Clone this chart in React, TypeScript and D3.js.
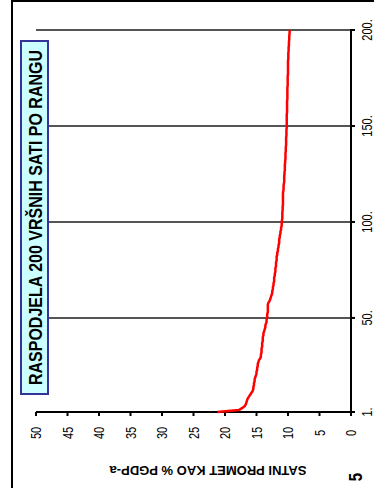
import React from "react";
import * as d3 from "d3";

const ranks: number[] = d3.range(1, 201);
const values: number[] = [
  21.2, 17.8, 17.3, 16.9, 16.7, 16.6, 16.5, 16.4, 16.2, 16.0,
  15.8, 15.6, 15.5, 15.5, 15.4, 15.4, 15.3, 15.3, 15.2, 15.1,
  15.0, 15.0, 14.9, 14.9, 14.8, 14.8, 14.7, 14.6, 14.4, 14.3,
  14.3, 14.2, 14.2, 14.2, 14.1, 14.1, 14.1, 14.0, 14.0, 14.0,
  13.9, 13.9, 13.8, 13.7, 13.6, 13.6, 13.5, 13.4, 13.4, 13.3,
  13.3, 13.3, 13.2, 13.2, 13.2, 13.2, 13.2, 13.1, 12.9, 12.8,
  12.7, 12.6, 12.5, 12.5, 12.4, 12.4, 12.3, 12.3, 12.2, 12.2,
  12.2, 12.1, 12.1, 12.0, 12.0, 12.0, 11.9, 11.9, 11.9, 11.8,
  11.8, 11.8, 11.7, 11.7, 11.6, 11.6, 11.5, 11.5, 11.4, 11.4,
  11.4, 11.3, 11.3, 11.2, 11.2, 11.1, 11.1, 11.0, 11.0, 11.0,
  10.95, 10.9, 10.9, 10.9, 10.9, 10.85, 10.85, 10.85, 10.8, 10.8,
  10.8, 10.8, 10.8, 10.8, 10.8, 10.75, 10.7, 10.7, 10.7, 10.65,
  10.6, 10.6, 10.6, 10.6, 10.55, 10.55, 10.5, 10.5, 10.5, 10.5,
  10.45, 10.45, 10.4, 10.4, 10.4, 10.4, 10.35, 10.35, 10.35, 10.3,
  10.3, 10.3, 10.3, 10.3, 10.25, 10.25, 10.25, 10.25, 10.2, 10.2,
  10.2, 10.2, 10.2, 10.2, 10.2, 10.2, 10.15, 10.15, 10.15, 10.15,
  10.15, 10.15, 10.15, 10.1, 10.1, 10.1, 10.1, 10.1, 10.1, 10.1,
  10.05, 10.05, 10.05, 10.05, 10.05, 10.05, 10.0, 10.0, 10.0, 10.0,
  10.0, 10.0, 10.0, 10.0, 9.95, 9.95, 9.95, 9.95, 9.9, 9.9,
  9.9, 9.85, 9.85, 9.85, 9.8, 9.8, 9.8, 9.75, 9.75, 9.7,
];
const valueTicks: number[] = [0, 5, 10, 15, 20, 25, 30, 35, 40, 45, 50];
const rankTicks: number[] = [1, 50, 100, 150, 200];
const rankTickLabels: string[] = ["1.", "50.", "100.", "150.", "200."];
const gridRanks: number[] = [50, 100, 150, 200];
const title = "RASPODJELA 200 VRŠNIH SATI PO RANGU";
const axisTitle = "SATNI PROMET KAO % PGDP-a";
const pageNumber = "5";

const W = 374;
const H = 488;
const font = "'Liberation Sans', Arial, sans-serif";

export default function App() {
  const x = d3.scaleLinear().domain([0, 50]).range([351, 36]);
  const y = d3.scaleLinear().domain([1, 200]).range([412, 30]);
  const line = d3
    .line<number>()
    .x((d) => x(d))
    .y((_, i) => y(ranks[i]));

  return (
    <svg
      width={W}
      height={H}
      style={{ position: "absolute", left: 0, top: 0, background: "#fff" }}
      fontFamily={font}
    >
      <rect x={0} y={0} width={W} height={H} fill="#fff" />
      {/* outer border */}
      <rect x={12} y={1} width={W + 20} height={H + 20} fill="none" stroke="#000" strokeWidth={2} />

      {/* gridlines */}
      {gridRanks.map((r) => (
        <line key={r} x1={x(50)} x2={x(0)} y1={y(r)} y2={y(r)} stroke="#555" strokeWidth={2} />
      ))}

      {/* value axis */}
      <line x1={x(50)} x2={x(0) + 1} y1={y(1)} y2={y(1)} stroke="#000" strokeWidth={2} />
      {valueTicks.map((v) => (
        <g key={v}>
          <line x1={x(v)} x2={x(v)} y1={y(1)} y2={y(1) + 4} stroke="#000" strokeWidth={2} />
          <text
            transform={`translate(${x(v) + 5},${y(1) + 21}) rotate(-90) scale(1,1.25)`}
            textAnchor="middle"
            fontSize={11}
            fill="#000"
          >
            {v}
          </text>
        </g>
      ))}

      {/* category axis */}
      <line x1={x(0)} x2={x(0)} y1={y(200) - 1} y2={y(1) + 1} stroke="#000" strokeWidth={2} />
      {rankTicks.map((r, i) => (
        <g key={r}>
          <line x1={x(0)} x2={x(0) + 4} y1={y(r)} y2={y(r)} stroke="#000" strokeWidth={2} />
          <text
            transform={`translate(${x(0) + 21},${y(r)}) rotate(-90) scale(1,1.25)`}
            textAnchor="middle"
            fontSize={11}
            fill="#000"
          >
            {rankTickLabels[i]}
          </text>
        </g>
      ))}

      {/* data line */}
      <path d={line(values) || ""} fill="none" stroke="#ff0000" strokeWidth={2.5} strokeLinejoin="round" />

      {/* title box */}
      <rect x={21} y={41} width={27} height={353} fill="#ccffff" stroke="#333399" strokeWidth={2} />
      <text
        transform={`translate(41.5,${(41 + 394) / 2}) rotate(-90) scale(1,1.15)`}
        textAnchor="middle"
        fontSize={16}
        fontWeight="bold"
        fill="#000"
      >
        {title}
      </text>

      {/* axis title (upside down) */}
      <text
        transform={`translate(208,466) rotate(180)`}
        textAnchor="middle"
        fontSize={13}
        fontWeight="bold"
        fill="#000"
      >
        {axisTitle}
      </text>

      {/* page number */}
      <text
        transform={`translate(362,477) rotate(-90) scale(1,1.2)`}
        textAnchor="middle"
        fontSize={15}
        fontWeight="bold"
        fill="#000"
      >
        {pageNumber}
      </text>
    </svg>
  );
}
